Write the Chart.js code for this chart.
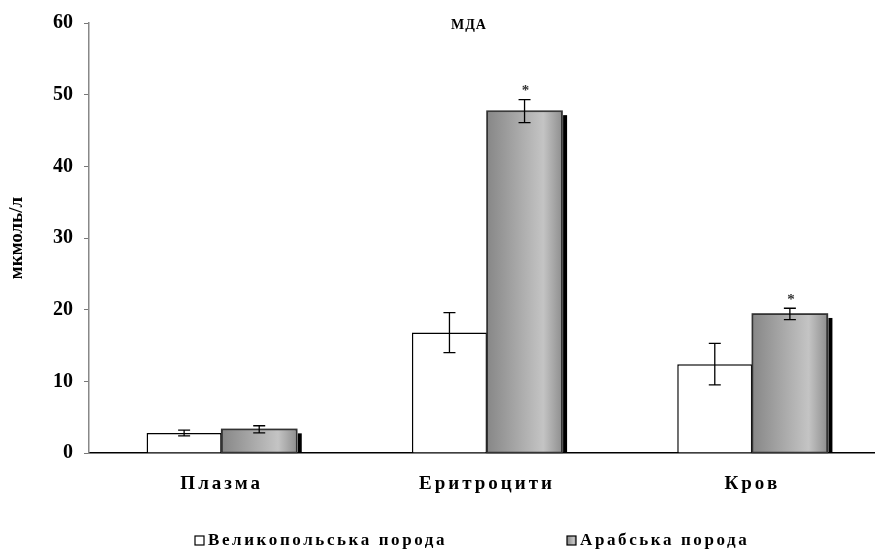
<!DOCTYPE html>
<html>
<head>
<meta charset="utf-8">
<script src="https://cdn.jsdelivr.net/npm/chart.js@4.4.0/dist/chart.umd.min.js"></script>
<style>
  html, body { margin: 0; padding: 0; background: #fff; overflow: hidden; }
  #wrap { width: 885px; height: 549px; }
</style>
</head>
<body>
<div id="wrap"><canvas id="mda"></canvas></div>
<script>
  const categories = ["Плазма", "Еритроцити", "Кров"];
  const seriesNames = ["Великопольська порода", "Арабська порода"];
  const wielkopolskiValues = [2.8, 16.8, 12.4];
  const wielkopolskiErrors = [0.4, 2.8, 2.9];
  const arabValues = [3.3, 47.7, 19.4];
  const arabErrors = [0.5, 1.6, 0.8];
  const arabMarks = ["", "*", "*"];
  const yTicks = [0, 10, 20, 30, 40, 50, 60];

  const serif = "'Liberation Serif', 'Times New Roman', serif";

  const greyFill = (ctx, left, top, right) => {
    const g = ctx.createLinearGradient(left, top, right, top);
    g.addColorStop(0, "#878787");
    g.addColorStop(0.75, "#c4c4c4");
    g.addColorStop(1, "#8f8f8f");
    return g;
  };

  // error bars, grey gradient fill, bar shadow, marks, title and legend
  const barExtras = {
    id: "barExtras",
    beforeDraw(chart) { chart.ctx.letterSpacing = "0px"; },
    afterDatasetsDraw(chart) {
      const { ctx, scales: { y } } = chart;
      const errs = [wielkopolskiErrors, arabErrors];
      const vals = [wielkopolskiValues, arabValues];

      chart.getDatasetMeta(1).data.forEach((bar) => {
        const left = bar.x - bar.width / 2;
        const right = bar.x + bar.width / 2;
        const h = bar.base - bar.y;
        ctx.save();
        ctx.fillStyle = "#000";
        ctx.fillRect(right + 1, bar.y + 4, 4, h - 4);
        ctx.fillStyle = greyFill(ctx, left, bar.y, right);
        ctx.fillRect(left + 1, bar.y + 1, bar.width - 2, h - 1);
        ctx.strokeStyle = "#333";
        ctx.lineWidth = 1.5;
        ctx.strokeRect(left, bar.y, bar.width, h);
        ctx.restore();
      });

      [0, 1].forEach((d) => {
        chart.getDatasetMeta(d).data.forEach((bar, i) => {
          const top = y.getPixelForValue(vals[d][i] + errs[d][i]);
          const bottom = y.getPixelForValue(vals[d][i] - errs[d][i]);
          ctx.save();
          ctx.strokeStyle = "#000";
          ctx.lineWidth = 1.3;
          ctx.beginPath();
          ctx.moveTo(bar.x, top);
          ctx.lineTo(bar.x, bottom);
          ctx.moveTo(bar.x - 6, top);
          ctx.lineTo(bar.x + 6, top);
          ctx.moveTo(bar.x - 6, bottom);
          ctx.lineTo(bar.x + 6, bottom);
          ctx.stroke();
          if (d === 1 && arabMarks[i]) {
            ctx.fillStyle = "#333";
            ctx.font = "bold 15px " + serif;
            ctx.textAlign = "center";
            ctx.textBaseline = "bottom";
            ctx.fillText(arabMarks[i], bar.x + 1, top - 1);
          }
          ctx.restore();
        });
      });

      // from here on text is drawn spaced out (x labels use ticks.z = 1)
      ctx.letterSpacing = "3px";
      ctx.save();
      ctx.fillStyle = "#000";
      ctx.letterSpacing = "1px";
      ctx.font = "bold 14px " + serif;
      ctx.textAlign = "center";
      ctx.textBaseline = "middle";
      ctx.fillText("МДА", chart.chartArea.left + 380, 25);
      ctx.restore();
    },
    afterDraw(chart) {
      const { ctx, chartArea } = chart;
      const items = [
        { x: chartArea.left + 106, fill: "#fff" },
        { x: chartArea.left + 478, fill: null },
      ];
      const cy = 540;
      ctx.save();
      ctx.letterSpacing = "2.6px";
      ctx.font = "bold 17px " + serif;
      ctx.textBaseline = "middle";
      ctx.textAlign = "left";
      items.forEach((it, i) => {
        ctx.fillStyle = it.fill || greyFill(ctx, it.x, cy - 4, it.x + 9);
        ctx.fillRect(it.x, cy - 4, 9, 9);
        ctx.strokeStyle = "#000";
        ctx.lineWidth = 1.2;
        ctx.strokeRect(it.x, cy - 4, 9, 9);
        ctx.fillStyle = "#000";
        ctx.fillText(seriesNames[i], it.x + 13, cy + 1);
      });
      ctx.restore();
    },
  };

  new Chart(document.getElementById("mda"), {
    type: "bar",
    data: {
      labels: categories,
      datasets: [
        {
          label: seriesNames[0],
          data: wielkopolskiValues,
          backgroundColor: "#fff",
          borderColor: "#000",
          borderWidth: 1.5,
        },
        {
          label: seriesNames[1],
          data: arabValues,
          backgroundColor: "#a8a8a8",
          borderColor: "#333",
          borderWidth: 1.5,
        },
      ],
    },
    options: {
      responsive: true,
      maintainAspectRatio: false,
      animation: false,
      devicePixelRatio: 1,
      categoryPercentage: 0.566,
      barPercentage: 1,
      layout: { padding: { top: 22, left: 6, right: 0, bottom: 34 } },
      scales: {
        x: {
          grid: { display: false },
          border: { display: true, color: "#000", width: 1.5 },
          ticks: {
            color: "#000",
            padding: 12,
            z: 1,
            maxRotation: 0,
            font: { family: serif, size: 19, weight: "bold" },
          },
          afterFit: (s) => { s.height = 62; },
        },
        y: {
          min: 0,
          max: 60,
          afterBuildTicks: (s) => { s.ticks = yTicks.map((v) => ({ value: v })); },
          grid: {
            display: true,
            drawOnChartArea: false,
            drawTicks: true,
            tickLength: 5,
            color: "#777",
          },
          border: { display: true, color: "#888", width: 1.5 },
          ticks: {
            color: "#000",
            padding: 11,
            font: { family: serif, size: 20, weight: "bold" },
          },
          title: {
            display: true,
            text: "мкмоль/л",
            color: "#000",
            padding: { top: 0, bottom: 4 },
            font: { family: serif, size: 19, weight: "bold" },
          },
          afterFit: (s) => { s.width = 83; },
        },
      },
      plugins: {
        legend: { display: false },
        tooltip: { enabled: false },
      },
    },
    plugins: [barExtras],
  });
</script>
</body>
</html>
